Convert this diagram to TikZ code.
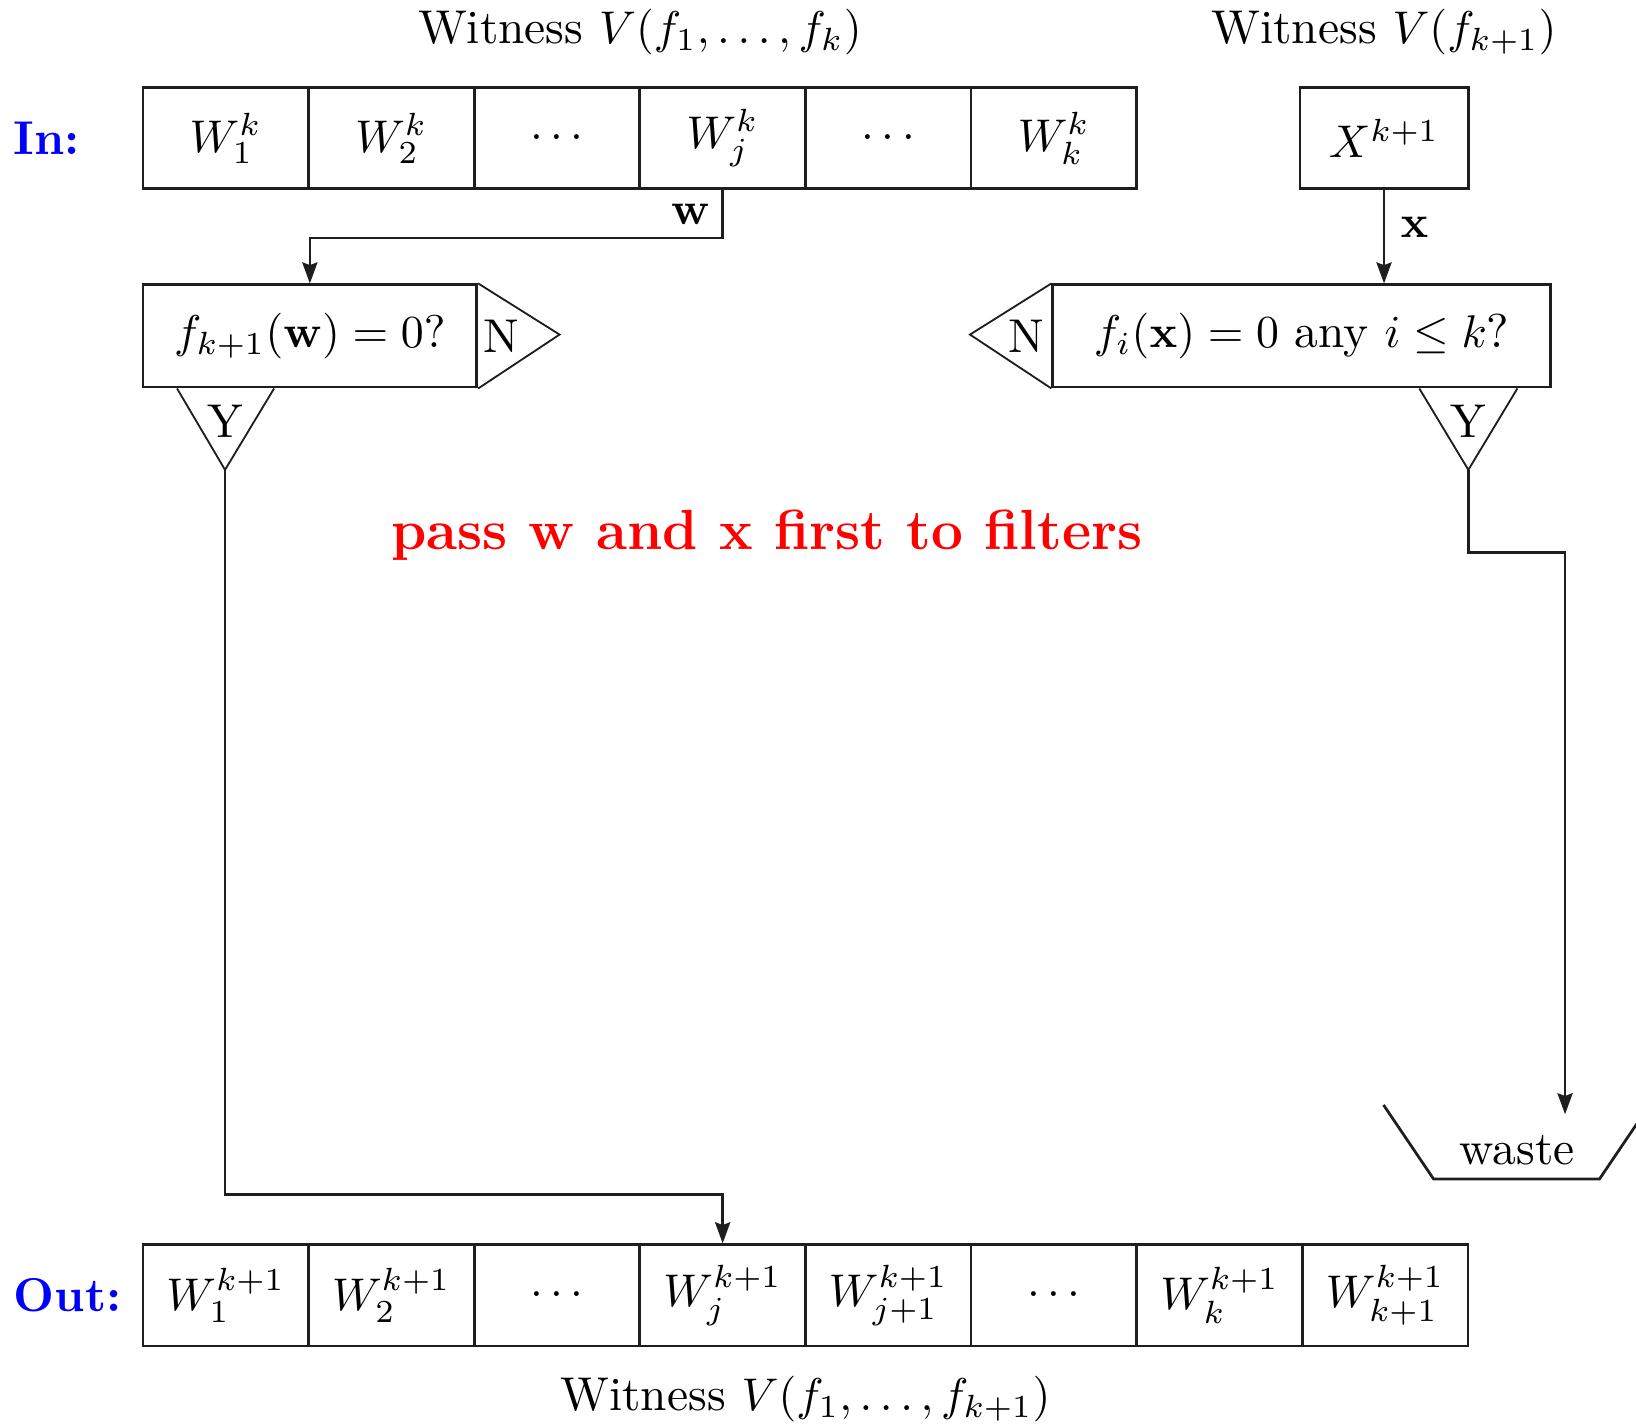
\documentclass[tikz,border=0pt]{standalone}
\usetikzlibrary{arrows.meta, positioning, calc}
\definecolor{cblue}{HTML}{0000FF}
\definecolor{cred}{HTML}{FF0000}
\definecolor{cink}{HTML}{1E1E1E}
\tikzset{
  every picture/.style={font=\fontsize{10.35}{12.4}\selectfont},
  cell/.style={draw=cink, line width=0.6pt, minimum width=1.27cm, minimum height=0.776cm, inner sep=0pt},
  test/.style={draw=cink, line width=0.6pt, minimum height=0.784cm, inner sep=0pt},
  flag/.style={draw=cink, line width=0.4pt},
  arrow/.style={-{Stealth[length=4.6pt, width=3.3pt, inset=0.6pt]}, draw=cink, line width=0.55pt},
  rowlab/.style={text=cblue, font=\fontsize{10.35}{12.4}\selectfont\bfseries, anchor=west, inner sep=0pt},
  note/.style={text=cred, font=\fontsize{12.35}{15}\selectfont\bfseries},
}
\begin{document}
\begin{tikzpicture}
  \useasboundingbox (0,0) rectangle (12.544,10.912);
  % input witness set and new point
  \foreach \w [count=\i] in {{W_1^k}, {W_2^k}, {\cdots}, {W_j^k}, {\cdots}, {W_k^k}}
    \node[cell] (in\i) at ({0.461+1.27*\i}, 9.852) {$\w$};
  \node[cell, minimum width=1.29cm] (xnew) at (10.612, 9.852) {$X^{k+1}$};
  \node[rowlab] (inlab) at (0.1, 9.852) {In:};
  \node[anchor=base] (wit1) at ($(in1.north west)!0.5!(in6.north east)+(0,0.328)$) {Witness $V(f_1,\ldots,f_k)$};
  \node[anchor=base] (wit2) at ($(xnew.north)+(0,0.328)$) {Witness $V(f_{k+1})$};
  % the two tests
  \node[test, minimum width=2.56cm] (tw) at (2.376, 8.336) {$f_{k+1}(\mathbf{w}) = 0?$};
  \node[test, minimum width=3.816cm] (tx) at (9.98, 8.336) {$f_i(\mathbf{x}) = 0$ any $i \le k$?};
  \draw[flag] (tw.north east) -- ++(0.624,-0.392) -- (tw.south east);
  \node (nw) at ($(tw.east)+(0.18,0)$) {N};
  \draw[flag] ($(tw.south west)+(0.272,0)$) -- ++(0.368,-0.624) coordinate (yw) -- ++(0.376,0.624);
  \node (yesw) at ($(yw)+(0,0.376)$) {Y};
  \draw[flag] (tx.north west) -- ++(-0.624,-0.392) -- (tx.south west);
  \node (nx) at ($(tx.west)+(-0.19,0)$) {N};
  \draw[flag] ($(tx.south east)+(-1.016,0)$) -- ++(0.376,-0.624) coordinate (yx) -- ++(0.376,0.624);
  \node (yesx) at ($(yx)+(0,0.376)$) {Y};
  \node[note] (hint) at (5.88, 6.808) {pass w and x first to filters};
  % waste bin
  \node (waste) at (11.632, 2.096) {waste};
  \draw[draw=cink, line width=0.6pt] ($(waste)+(-1.024,0.344)$) -- ++(0.384,-0.568) -- ++(1.272,0) -- ++(0.384,0.568);
  \coordinate (drop) at ($(waste)+(0.368,0.272)$);
  % output witness set
  \foreach \w [count=\i] in {{W_1^{k+1}}, {W_2^{k+1}}, {\cdots}, {W_j^{k+1}}, {W_{j+1}^{k+1}}, {\cdots}, {W_k^{k+1}}, {W_{k+1}^{k+1}}}
    \node[cell] (out\i) at ({0.461+1.27*\i}, 0.98) {$\w$};
  \node[rowlab] (outlab) at (0.1, 0.98) {Out:};
  \node[anchor=base] (wit3) at ($(out1.south west)!0.5!(out8.south east)+(0,-0.488)$) {Witness $V(f_1,\ldots,f_{k+1})$};
  % connectors
  \draw[arrow] (in4.south) -- node[left, inner sep=2.5pt] (wlab) {$\mathbf{w}$} ++(0,-0.368) -| (tw.north);
  \draw[arrow] (xnew.south) -- node[right, pos=0.4] (xlab) {$\mathbf{x}$} (xnew.south |- tx.north);
  \draw[arrow] (yw) |- ([yshift=0.376cm]out4.north) -- (out4.north);
  \draw[arrow] (yx) -- ++(0,-0.632) -| (drop);
\end{tikzpicture}
\end{document}
